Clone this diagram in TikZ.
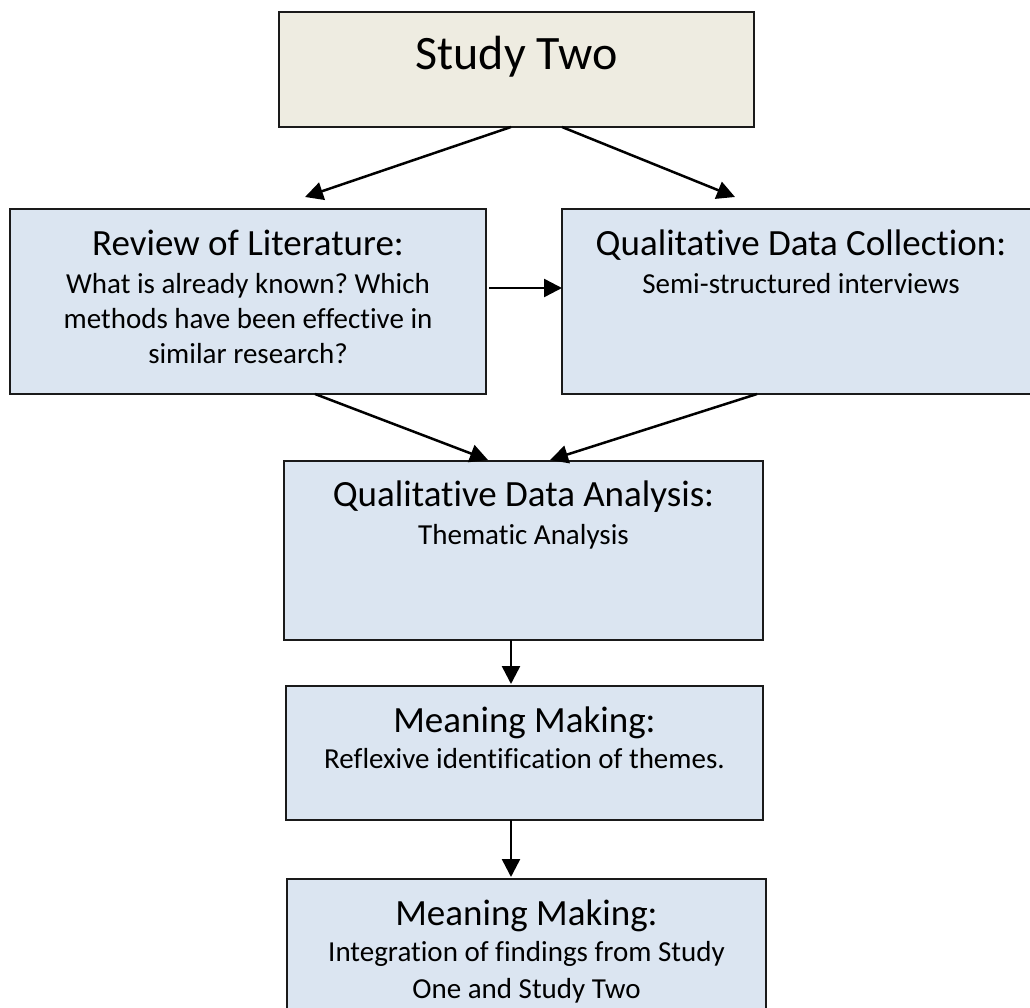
\documentclass[tikz,border=0pt]{standalone}
\usepackage{fontspec}
\setmainfont{Carlito}[Ligatures={NoCommon}]
\usetikzlibrary{arrows.meta,calc}
\definecolor{beige}{HTML}{EEECE1}
\definecolor{lblue}{HTML}{DBE5F1}
\definecolor{edge}{HTML}{1A1A1A}
\frenchspacing
\begin{document}
\begin{tikzpicture}[x=1pt,y=-1pt,
  boxbase/.style={draw=edge,line width=2pt,rectangle,inner sep=0pt,outer sep=0pt},
  topbox/.style={boxbase,fill=beige},
  bluebox/.style={boxbase,fill=lblue},
  titletxt/.style={anchor=base,inner sep=0pt,font=\fontsize{48}{58}\selectfont},
  headtxt/.style={anchor=base,inner sep=0pt,font=\fontsize{37}{45}\selectfont},
  bodytxt/.style={anchor=base,inner sep=0pt,font=\fontsize{29}{35}\selectfont},
  conn/.style={line width=2.5pt,draw=black,-{Triangle[length=18pt,width=18pt]}}]
\useasboundingbox (0,0) rectangle (1030,1008);
\clip (0,0) rectangle (1030,1008);
% boxes
\node[topbox,minimum width=475pt,minimum height=115pt] (top) at (516.5,69.5) {};
\node[bluebox,minimum width=476pt,minimum height=185pt] (rev) at (248,301.5) {};
\node[bluebox,minimum width=478pt,minimum height=185pt] (col) at (801,301.5) {};
\node[bluebox,minimum width=479pt,minimum height=179pt] (ana) at (523.5,550.5) {};
\node[bluebox,minimum width=477pt,minimum height=134pt] (mm1) at (524.5,753) {};
\node[bluebox,minimum width=479pt,minimum height=140pt] (mm2) at (526.5,949) {};
% texts
\node[titletxt] (toptxt) at (516.5,70) {Study Two};
\node[headtxt] (revh) at (248,255) {Review of Literature:};
\node[bodytxt] (revb1) at (248,293) {What is already known? Which};
\node[bodytxt] (revb2) at (248,328) {methods have been effective in};
\node[bodytxt] (revb3) at (248,363) {similar research?};
\node[headtxt] (colh) at (801,255) {Qualitative Data Collection:};
\node[bodytxt] (colb1) at (801,293) {Semi-structured interviews};
\node[headtxt] (anah) at (523.5,506) {Qualitative Data Analysis:};
\node[bodytxt] (anab1) at (523.5,544) {Thematic Analysis};
\node[headtxt] (mm1h) at (524.5,732) {Meaning Making:};
\node[bodytxt] (mm1b1) at (524.5,768) {Reflexive identification of themes.};
\node[headtxt] (mm2h) at (526.5,925) {Meaning Making:};
\node[bodytxt] (mm2b1) at (526.5,961) {Integration of findings from Study};
\node[bodytxt] (mm2b2) at (526.5,998) {One and Study Two};
% connectors
\draw[conn] ($(top.south)+(-5.5,0)$) -- ($(rev.north)+(57,-12)$);
\draw[conn] ($(top.south)+(45.5,0)$) -- ($(col.north)+(-66,-12)$);
\draw[conn] ($(rev.east)+(3,-13.5)$) -- ($(col.west)+(0,-13.5)$);
\draw[conn] ($(rev.south)+(67,0)$) -- ($(ana.north)+(-35.5,-1)$);
\draw[conn] ($(col.south)+(-44,0)$) -- ($(ana.north)+(26.5,-1)$);
\draw[conn] ($(ana.south)+(-12.5,0)$) -- ($(mm1.north)+(-13.5,-2)$);
\draw[conn] ($(mm1.south)+(-13.5,0)$) -- ($(mm2.north)+(-15.5,-2)$);
\end{tikzpicture}
\end{document}
